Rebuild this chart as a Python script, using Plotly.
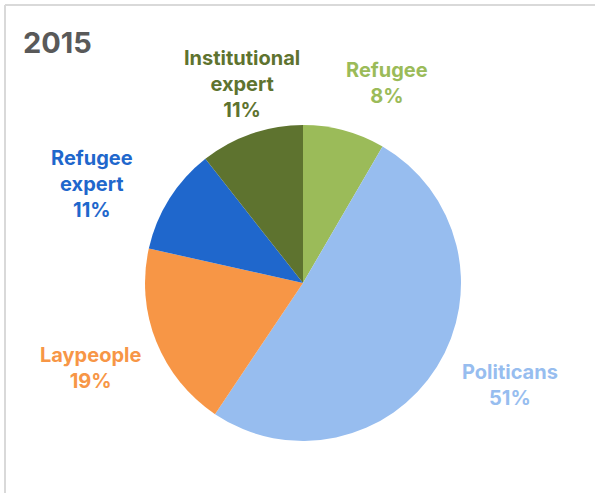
import plotly.graph_objects as go

title = "2015"
labels = ["Refugee", "Politicans", "Laypeople", "Refugee expert", "Institutional expert"]
display_labels = ["Refugee", "Politicans", "Laypeople", "Refugee<br>expert", "Institutional<br>expert"]
values = [8.4, 51.0, 19.1, 10.9, 10.6]
colors = ["#9BBB59", "#97BDEF", "#F79646", "#1F67CC", "#5E732F"]

W, H = 595, 493
# label centres (pixels) - layout only
label_pos = [(387, 83), (510, 385), (90, 368), (92, 184), (242, 84)]

total = sum(values)
fig = go.Figure(go.Pie(
    labels=labels, values=values, sort=False, direction="clockwise", rotation=0,
    marker=dict(colors=colors, line=dict(width=0)),
    textinfo="none", hoverinfo="label+percent", showlegend=False,
    domain=dict(x=[145 / W, 461 / W], y=[1 - 441 / H, 1 - 125 / H]),
))

font_family = "Inter, Open Sans, Liberation Sans, sans-serif"
annotations = [dict(
    text=f"<b>{title}</b>", x=21 / W, y=1 - 42 / H, xref="paper", yref="paper",
    xanchor="left", yanchor="middle", showarrow=False,
    font=dict(family=font_family, size=29, color="#595959"),
)]
for lab, v, c, (px, py) in zip(display_labels, values, colors, label_pos):
    pct = round(v / total * 100)
    annotations.append(dict(
        text=f"<b>{lab}<br>{pct}%</b>", x=px / W, y=1 - py / H, xref="paper", yref="paper",
        xanchor="center", yanchor="middle", showarrow=False, align="center",
        font=dict(family=font_family, size=20, color=c),
    ))

fig.update_layout(
    width=W, height=H, margin=dict(l=0, r=0, t=0, b=0),
    paper_bgcolor="white", plot_bgcolor="white",
    annotations=annotations,
    shapes=[
        dict(type="line", xref="paper", yref="paper", x0=5 / W, x1=1.0, y0=1 - 5 / H, y1=1 - 5 / H,
             line=dict(color="#D9D9D9", width=2)),
        dict(type="line", xref="paper", yref="paper", x0=5 / W, x1=5 / W, y0=0, y1=1 - 5 / H,
             line=dict(color="#D9D9D9", width=2)),
    ],
)
fig.write_html("out.html")
